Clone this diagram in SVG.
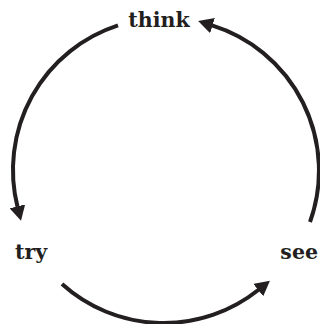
<svg xmlns="http://www.w3.org/2000/svg" width="320" height="324" viewBox="0 0 320 324">
<style>
.arc{fill:none;stroke:#231f20;stroke-width:4;}
.lbl{font-family:"DejaVu Serif","Liberation Serif",serif;font-weight:bold;font-size:20.5px;fill:#231f20;}
</style>
<defs>
<marker id="ah" viewBox="0 0 15 16" refX="0.5" refY="8" markerWidth="15" markerHeight="16" markerUnits="userSpaceOnUse" orient="auto">
<path d="M0,0 L15,8 L0,16 Z" fill="#231f20"/>
</marker>
</defs>
<rect width="320" height="324" fill="#fff"/>
<g id="connectors">
<path class="arc" d="M118,25.4 A152,152 0 0 0 17.5,206.8" marker-end="url(#ah)"/>
<path class="arc" d="M62,284 A152,152 0 0 0 258.6,289.8" marker-end="url(#ah)"/>
<path class="arc" d="M310,222 A152,152 0 0 0 212,25.4" marker-end="url(#ah)"/>
</g>
<g id="think"><text class="lbl" x="159" y="27" text-anchor="middle">think</text></g>
<g id="try"><text class="lbl" x="15" y="259">try</text></g>
<g id="see"><text class="lbl" x="318" y="259" text-anchor="end">see</text></g>
</svg>
